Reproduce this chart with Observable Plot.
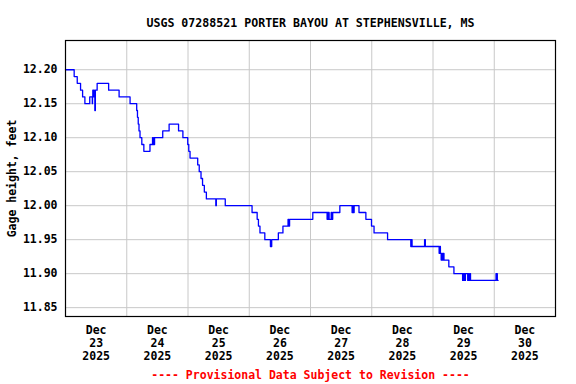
<!DOCTYPE html>
<html>
<head>
<meta charset="utf-8">
<script src="https://cdn.jsdelivr.net/npm/d3@7"></script>
<script src="https://cdn.jsdelivr.net/npm/@observablehq/plot@0.6"></script>
<style>
  html, body { margin: 0; padding: 0; background: #fff; }
  svg { display: block; }
</style>
</head>
<body>
<div id="chart"></div>
<script>
const titleText = "USGS 07288521 PORTER BAYOU AT STEPHENSVILLE, MS";
const yLabel = "Gage height, feet";
const captionText = "---- Provisional Data Subject to Revision ----";

// Hours since 2025-12-23 00:00 at which the gage height changes, and the value it takes
const hoursSinceStart = [
  0, 3.4, 4.6, 5.9, 6.7, 7.6, 9.5, 10.5, 10.6, 10.7, 10.9, 11.1, 11.3, 11.5, 11.7, 12.4,
  16.9, 21.0, 25.3, 27.9, 28.2, 28.5, 28.8, 29.2, 29.9, 30.7, 33.1, 34.1, 34.3, 34.6, 34.7, 34.9,
  38.1, 40.6, 44.3, 46.0, 47.9, 48.3, 48.8, 51.8, 52.4, 53.1, 53.7, 54.4, 55.2, 58.9, 59.1, 62.6,
  73.1, 75.1, 75.6, 76.2, 78.1, 80.3, 80.8, 83.4, 85.2, 87.2, 87.5, 87.8, 88.2,
  96.9, 102.5, 102.7, 102.9, 103.1, 103.3, 104.1, 104.3, 104.7, 107.5,
  112.3, 112.6, 112.8, 113.1, 115.0, 117.7, 119.9, 120.9, 126.2,
  135.3, 135.5, 135.8, 140.7, 141.0, 146.4, 146.7, 146.9, 147.2, 147.4, 147.7, 148.0, 148.3,
  150.2, 152.2, 155.6, 155.8, 156.0, 156.2, 156.5, 156.7, 157.6, 157.9, 158.2, 158.5, 158.7,
  168.7, 169.2, 169.5
];
const gageHeight = [
  12.20, 12.19, 12.18, 12.17, 12.16, 12.15, 12.16, 12.15, 12.16, 12.17, 12.16, 12.17, 12.16, 12.14, 12.17, 12.18,
  12.17, 12.16, 12.15, 12.14, 12.13, 12.12, 12.11, 12.10, 12.09, 12.08, 12.09, 12.10, 12.09, 12.10, 12.09, 12.10,
  12.11, 12.12, 12.11, 12.10, 12.09, 12.08, 12.07, 12.06, 12.05, 12.04, 12.03, 12.02, 12.01, 12.00, 12.01, 12.00,
  11.99, 11.98, 11.97, 11.96, 11.95, 11.94, 11.95, 11.96, 11.97, 11.98, 11.97, 11.98, 11.98,
  11.99, 11.98, 11.99, 11.98, 11.99, 11.98, 11.99, 11.98, 11.99, 12.00,
  11.99, 12.00, 11.99, 12.00, 11.99, 11.98, 11.97, 11.96, 11.95,
  11.94, 11.95, 11.94, 11.95, 11.94, 11.93, 11.94, 11.93, 11.92, 11.93, 11.92, 11.93, 11.92,
  11.91, 11.90, 11.89, 11.90, 11.89, 11.90, 11.89, 11.90, 11.89, 11.90, 11.89, 11.90, 11.89,
  11.90, 11.89, 11.89
];

const dayLabels = ["23", "24", "25", "26", "27", "28", "29", "30"];
const monthLabel = "Dec";
const yearLabel = "2025";
const yTicks = [11.85, 11.90, 11.95, 12.00, 12.05, 12.10, 12.15, 12.20];

const start = Date.UTC(2025, 11, 23);
const H = 3600e3;
const data = hoursSinceStart.map((h, i) => ({t: new Date(start + h * H), v: gageHeight[i]}));
const noonTicks = dayLabels.map((d, i) => new Date(start + (i * 24 + 12) * H));
const midnightGrid = dayLabels.slice(1).map((d, i) => new Date(start + (i + 1) * 24 * H));
const labelByTime = new Map(noonTicks.map((t, i) => [+t, `${monthLabel}\n${dayLabels[i]}\n${yearLabel}`]));

const font = "'DejaVu Sans Mono', monospace";

const chart = Plot.plot({
  width: 576,
  height: 384,
  marginLeft: 65,
  marginRight: 21,
  marginTop: 40,
  marginBottom: 68,
  style: {fontFamily: font, fontSize: "11.5px", fontWeight: "bold", background: "#fff", color: "#000"},
  x: {type: "utc", domain: [new Date(start), new Date(start + 8 * 24 * H)]},
  y: {domain: [11.837, 12.243]},
  marks: [
    Plot.gridX(midnightGrid, {stroke: "#c8c8c8", strokeOpacity: 1, strokeWidth: 1}),
    Plot.gridY(yTicks, {stroke: "#c8c8c8", strokeOpacity: 1, strokeWidth: 1}),
    Plot.axisY(yTicks, {tickSize: 0, tickPadding: 8, tickFormat: d3.format(".2f"), label: null, fontSize: 11.5, fontWeight: "bold"}),
    Plot.axisX(noonTicks, {tickSize: 0, tickPadding: 9, tickFormat: d => labelByTime.get(+d), label: null, fontSize: 11.5, fontWeight: "bold", lineHeight: 1.1}),
    Plot.line(data, {x: "t", y: "v", curve: "step-after", stroke: "#0000ff", strokeWidth: 1.3}),
    Plot.frame({stroke: "#000", strokeWidth: 1.2}),
    Plot.text([titleText], {frameAnchor: "top", lineAnchor: "bottom", dy: -14, fontSize: 11.6, fontWeight: "bold", fill: "#000"}),
    Plot.text([yLabel], {frameAnchor: "left", rotate: -90, lineAnchor: "middle", textAnchor: "middle", dx: -53, fontSize: 11.5, fontWeight: "bold", fill: "#000"}),
    Plot.text([captionText], {frameAnchor: "bottom", lineAnchor: "bottom", dy: 62, fontSize: 11.5, fontWeight: "bold", fill: "#ff0000"})
  ]
});
document.getElementById("chart").appendChild(chart);
</script>
</body>
</html>
